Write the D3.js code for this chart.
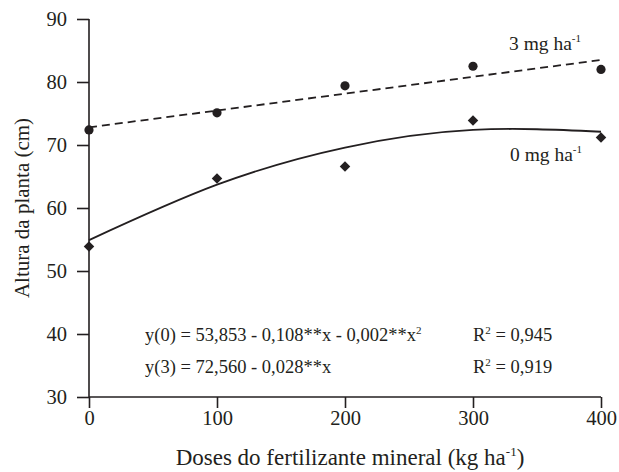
<!DOCTYPE html>
<html>
<head>
<meta charset="utf-8">
<script src="https://cdn.jsdelivr.net/npm/d3@7"></script>
<style>
  body { margin: 0; background: #fff; }
  text { font-family: "Liberation Serif", "Times New Roman", "DejaVu Serif", serif; fill: #231f20; }
</style>
</head>
<body>
<div class="canvas"></div>
<script>
// values
const doses = [0, 100, 200, 300, 400];
const alt0 = [53.9, 64.7, 66.6, 73.9, 71.2];   // 0 mg ha-1
const alt3 = [72.4, 75.1, 79.4, 82.5, 82.0];   // 3 mg ha-1
const fit0 = [54.9, 63.7, 69.6, 72.4, 72.1];   // fitted curve, 0 mg
const fitDoses3 = [0, 400];
const fit3 = [72.8, 83.5];                     // fitted line, 3 mg
const xTicks = [0, 100, 200, 300, 400];
const yTicks = [30, 40, 50, 60, 70, 80, 90];

const margin = { t: 19, r: 18, b: 75, l: 89 };
const svgWidth = 619;
const svgHeight = 472;
const gWidth = svgWidth - margin.l - margin.r;
const gHeight = svgHeight - margin.b - margin.t;
const ink = "#231f20";
const serif = '"Liberation Serif", "Times New Roman", "DejaVu Serif", serif';

const svg = d3
  .select(".canvas")
  .append("svg")
  .attr("width", svgWidth)
  .attr("height", svgHeight);

const g = svg
  .append("g")
  .attr("transform", `translate(${margin.l}, ${margin.t})`);

const x = d3.scaleLinear().domain([0, 400]).range([0, gWidth]);
const y = d3.scaleLinear().domain([30, 90]).range([gHeight, 0]);

const xAxis = d3.axisBottom(x).tickValues(xTicks).tickSize(11).tickPadding(2);
const yAxis = d3.axisLeft(y).tickValues(yTicks).tickSize(12).tickPadding(10);

const xAxisGroup = g
  .append("g")
  .attr("transform", `translate(0, ${gHeight})`)
  .call(xAxis);
const yAxisGroup = g.append("g").call(yAxis);

[xAxisGroup, yAxisGroup].forEach(ax => {
  ax.attr("font-family", serif);
  ax.select(".domain").attr("stroke", ink).attr("stroke-width", 1.6);
  ax.selectAll(".tick line").attr("stroke", ink).attr("stroke-width", 1.6);
  ax.selectAll("text")
    .attr("fill", ink)
    .style("font-family", serif)
    .style("font-size", "20.5px");
});
// remove the outer tick stubs so the axes meet cleanly
xAxisGroup.select(".domain").attr("d", `M0,0H${gWidth}`);
yAxisGroup.select(".domain").attr("d", `M0,${gHeight}V0`);

// fitted lines
const line = d3
  .line()
  .x(d => x(d[0]))
  .y(d => y(d[1]));

g.append("path")
  .datum(doses.map((d, i) => [d, fit0[i]]))
  .attr("fill", "none")
  .attr("stroke", ink)
  .attr("stroke-width", 1.8)
  .attr("d", line.curve(d3.curveNatural));

g.append("path")
  .datum(fitDoses3.map((d, i) => [d, fit3[i]]))
  .attr("fill", "none")
  .attr("stroke", ink)
  .attr("stroke-width", 1.8)
  .attr("stroke-dasharray", "8,5")
  .attr("d", line.curve(d3.curveLinear));

// points
g.selectAll(".p3")
  .data(doses)
  .enter()
  .append("circle")
  .attr("class", "p3")
  .attr("cx", d => x(d))
  .attr("cy", (d, i) => y(alt3[i]))
  .attr("r", 4.6)
  .attr("fill", ink);

const diamond = d3.symbol().type(d3.symbolDiamond2).size(70);
g.selectAll(".p0")
  .data(doses)
  .enter()
  .append("path")
  .attr("class", "p0")
  .attr("d", diamond)
  .attr("transform", (d, i) => `translate(${x(d)}, ${y(alt0[i])})`)
  .attr("fill", ink);

// series labels
const label = (tx, ty, txt) => {
  const t = svg.append("text")
    .attr("x", tx)
    .attr("y", ty)
    .style("font-size", "19.5px");
  t.append("tspan").text(txt);
  t.append("tspan").attr("dy", -8).style("font-size", "11px").text("-1");
};
label(509, 50, "3 mg ha");
label(510, 161, "0 mg ha");

// equations
const eq = svg.append("g").style("font-size", "18.5px");
const e1 = eq.append("text").attr("x", 145).attr("y", 341);
e1.append("tspan").text("y(0) = 53,853 - 0,108**x - 0,002**x");
e1.append("tspan").attr("dy", -7).style("font-size", "11px").text("2");
eq.append("text").attr("x", 145).attr("y", 373).text("y(3) = 72,560 - 0,028**x");

const r2 = (ty, val) => {
  const t = eq.append("text").attr("x", 473).attr("y", ty);
  t.append("tspan").text("R");
  t.append("tspan").attr("dy", -7).style("font-size", "11px").text("2");
  t.append("tspan").attr("dy", 7).text(" = " + val);
};
r2(341, "0,945");
r2(373, "0,919");

// axis titles
svg.append("text")
  .attr("x", 350)
  .attr("y", 465)
  .attr("text-anchor", "middle")
  .style("font-size", "23px")
  .call(t => {
    t.append("tspan").text("Doses do fertilizante mineral (kg ha");
    t.append("tspan").attr("dy", -9).style("font-size", "13px").text("-1");
    t.append("tspan").attr("dy", 9).text(")");
  });

svg.append("text")
  .attr("transform", `translate(29, ${margin.t + gHeight / 2}) rotate(-90)`)
  .attr("text-anchor", "middle")
  .style("font-size", "21px")
  .text("Altura da planta (cm)");
</script>
</body>
</html>
